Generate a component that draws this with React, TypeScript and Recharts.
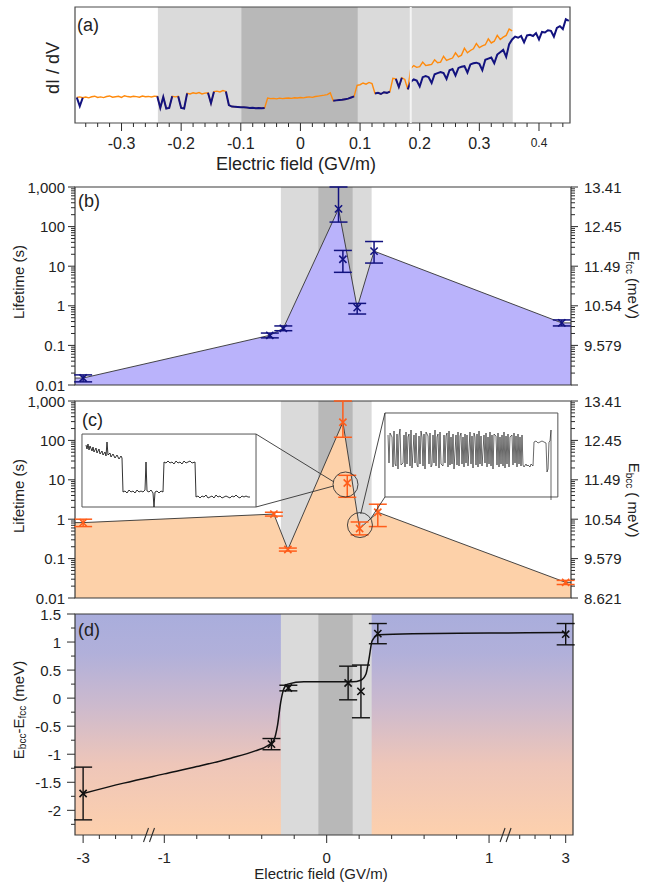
import React from "react";
import {
  Area,
  ComposedChart,
  ErrorBar,
  Line,
  LineChart,
  ReferenceArea,
  ReferenceDot,
  ReferenceLine,
  Scatter,
  XAxis,
  YAxis,
} from "recharts";

const FONT = "'Liberation Sans', Arial, Helvetica, sans-serif";
const INK = "#2b2b2b";
const LIGHT_GRAY = "#dadada";
const DARK_GRAY = "#b8b8b8";
const ORANGE = "#ff8a0c";
const NAVY = "#12127f";
const BCC = "#ff5d1a";

// ---------- (a) dI/dV sweep ----------
const sweepStart = -0.375;
const sweepStep = 0.005;
const orangeTrace = [
  2.2, 2.25, 2.18,
  2.24, 2.17, 2.26, 2.31, 2.2, 2.25, 2.19, 2.28, 2.33, 2.22, 2.26, 2.3,
  2.21, 2.35, 2.28, 2.24, 2.3, 2.27, 2.22, 2.32, 2.26, 2.29, 2.24, 2.31,
  2.3, 1.3, 2.25, 1.25, 1.3, 2.3, 2.25, 2.3, 1.3, 1.25, 2.55,
  2.5, 2.6, 2.55, 2.62, 2.5, 2.58,
  2.6, 1.7, 2.7, 2.75, 2.68, 2.8, 2.72,
  1.55, 1.42, 1.4, 1.38, 1.35, 1.36, 1.33, 1.3, 1.32, 1.28, 1.3, 1.27, 1.3,
  2.15, 2.1, 2.12, 2.08, 2.14, 2.1, 2.13, 2.16, 2.12, 2.18, 2.15, 2.2,
  2.17, 2.22, 2.25, 2.21, 2.28, 2.32, 2.36, 2.4, 2.45, 2.6,
  1.92, 1.95, 1.98, 2.0, 2.05, 2.1, 2.2, 2.3,
  3.25, 3.3, 3.45, 3.35, 3.5, 3.4,
  2.55, 2.6, 2.5, 2.65, 2.6, 2.7,
  3.85, 3.8, 3.1, 3.9, 3.75, 2.9,
  4.7, 4.95, 4.8, 4.85, 5.25, 4.95, 5.0, 5.05, 5.45, 5.2, 5.25, 5.75,
  5.4, 5.5, 5.6, 6.05, 5.7, 5.85, 6.45, 6.05, 6.25, 6.4, 6.85, 6.5,
  6.65, 6.75, 7.25, 6.9, 7.05, 7.55, 7.2, 7.4, 7.55, 8.1, 7.95,
];
const navyTrace = [
  2.2, 1.45, 2.18,
  null, null, null, null, null, null, null, null, null, null, null, null,
  null, null, null, null, null, null, null, null, null, null, null, null,
  2.3, 1.3, 2.25, 1.25, 1.3, 2.3, null, 2.3, 1.3, 1.25, 2.55,
  null, null, null, null, null, null,
  2.6, 1.7, 2.7, null, null, null, 2.72,
  1.55, 1.42, 1.4, 1.38, 1.35, 1.36, 1.33, 1.3, 1.32, 1.28, 1.3, 1.27, 1.3,
  null, null, null, null, null, null, null, null, null, null, null, null,
  null, null, null, null, null, null, null, null, null, null,
  1.92, 1.95, 1.98, 2.0, 2.05, 2.1, 2.2, 2.3,
  null, null, null, null, null, null,
  2.55, 2.6, 2.5, 2.65, 2.6, 2.7,
  null, 3.8, 3.1, 3.9, null, 2.9,
  3.55, 3.75, 3.65, 3.15, 3.95, 4.05, 3.95, 3.45, 4.2, 4.3, 4.4, 4.3,
  3.8, 4.55, 4.65, 4.1, 4.75, 4.85, 4.9, 4.35, 5.05, 5.15, 5.2, 5.1,
  4.55, 5.45, 5.55, 5.65, 5.15, 5.9, 6.1, 6.3, 5.7, 6.8, 7.2,
  7.45, 7.35, 7.5, 6.95, 7.55, 7.6, 7.5, 7.75, 7.2, 7.85, 7.8, 8.0,
  7.95, 7.45, 8.2, 8.35, 8.1, 8.95, 8.8,
];
const sweepMajor = [-0.3, -0.2, -0.1, 0, 0.1, 0.2, 0.3, 0.4];
const sweepLabels = ["-0.3", "-0.2", "-0.1", "0", "0.1", "0.2", "0.3", "0.4"];
const sweepLabelSize = [16, 16, 16, 16, 16, 16, 16, 12];
const sweepLight = [-0.239, 0.356];
const sweepDark = [-0.099, 0.096];
const sweepGap = 0.185;
const SWEEP_DOMAIN = [-0.378, 0.452];

// ---------- (b) fcc lifetime ----------
const fccField = [-3, -0.35, -0.267, 0.073, 0.1, 0.188, 0.292, 2.9];
const fccLife = [0.015, 0.18, 0.27, 280, 15, 0.9, 24, 0.37];
const fccLow = [0.012, 0.155, 0.235, 130, 7, 0.62, 12, 0.31];
const fccHigh = [0.018, 0.205, 0.31, 1000, 25, 1.15, 42, 0.44];
const fccOutline = [0, 1, 2, 3, 5, 6, 7];

// ---------- (c) bcc lifetime ----------
const bccField = [-3, -0.325, -0.239, 0.1, 0.127, 0.203, 0.315, 3];
const bccLife = [0.82, 1.35, 0.17, 290, 8.3, 0.58, 1.5, 0.025];
const bccLow = [0.65, 1.2, 0.155, 120, 3.6, 0.4, 0.65, 0.022];
const bccHigh = [1.0, 1.5, 0.185, 1000, 13, 0.85, 2.4, 0.028];
const bccOutline = [0, 1, 2, 3, 5, 6, 7];

const lifeMajor = [0.01, 0.1, 1, 10, 100, 1000];
const lifeLabels = ["0.01", "0.1", "1", "10", "100", "1,000"];
const fccEnergyLabels = ["", "9.579", "10.54", "11.49", "12.45", "13.41"];
const bccEnergyLabels = ["8.621", "9.579", "10.54", "11.49", "12.45", "13.41"];

// insets of (c): telegraph traces
const insetLeftT = [
  2, 3, 4, 5, 6, 8, 9, 10, 12, 13, 15, 16, 18, 19, 21, 22, 23, 24, 26, 27,
  29, 31, 33, 35, 37, 38, 39, 41, 43, 45, 47, 49, 51, 53, 55, 57, 59, 61, 62, 63,
  65, 67, 69, 70, 71, 73, 75, 77, 79, 80, 82, 84, 86, 88, 90, 92, 94, 96, 98, 100,
  102, 104, 106, 108, 111, 112, 114, 116, 118, 120, 122, 124, 126, 128, 130, 132, 134, 136, 138, 140,
  142, 144, 146, 148, 150, 152, 154, 156, 158, 160, 162, 164, 166,
];
const insetLeftV = [
  62, 58, 63, 57, 61, 56, 60, 55, 59, 54, 58, 53, 56, 52, 55, 51, 65, 52, 54, 50,
  53, 49, 52, 48, 51, 49, 15, 16, 14, 17, 15, 16, 14, 17, 15, 16, 15, 17, 45, 16,
  15, 17, 14, 0, 15, 16, 14, 16, 15, 45, 44, 46, 44, 45, 43, 46, 44, 45, 43, 46,
  44, 45, 46, 44, 45, 10, 11, 9, 11, 10, 12, 9, 10, 11, 9, 12, 10, 11, 9, 10,
  11, 10, 9, 11, 10, 12, 10, 9, 11, 10, 11, 10, 10,
];
const insetRightT = [
  2, 3, 4, 6, 7, 8, 9, 10, 11, 12, 13, 14, 15, 17, 18, 19, 20, 21, 22, 23,
  24, 25, 26, 28, 29, 30, 31, 32, 33, 34, 35, 36, 37, 38, 39, 40, 42, 43, 44, 45,
  46, 47, 48, 49, 50, 51, 52, 53, 54, 55, 57, 58, 59, 60, 61, 62, 63, 64, 65, 66,
  67, 68, 70, 71, 72, 73, 74, 75, 76, 77, 78, 79, 80, 81, 82, 84, 85, 86, 87, 88,
  89, 90, 91, 92, 93, 94, 95, 96, 98, 99, 100, 101, 102, 103, 104, 105, 106, 107, 108, 110,
  111, 112, 113, 114, 115, 116, 117, 118, 119, 120, 121, 122, 123, 124, 126, 127, 128, 129, 130, 131,
  132, 133, 134, 135, 136, 137, 138, 140, 141, 142, 144, 145, 147, 148, 150, 152, 154, 156, 158, 160,
  161, 162, 163, 164, 165, 165,
];
const insetRightV = [
  62, 34, 64, 60, 30, 66, 33, 31, 63, 28, 61, 68, 32, 34, 62, 30, 65, 33, 60, 63,
  31, 67, 29, 62, 34, 64, 32, 30, 61, 33, 66, 60, 31, 63, 28, 65, 61, 33, 64, 30,
  32, 62, 34, 67, 31, 60, 63, 29, 65, 33, 31, 62, 34, 61, 64, 30, 66, 32, 60, 33,
  63, 28, 62, 32, 65, 31, 61, 64, 33, 60, 30, 63, 34, 62, 31, 65, 33, 61, 29, 64,
  60, 32, 63, 30, 66, 33, 61, 31, 62, 34, 64, 30, 60, 33, 65, 31, 62, 28, 63, 61,
  32, 64, 30, 60, 33, 62, 31, 65, 29, 61, 33, 63, 30, 60, 62, 32, 64, 34, 61, 30,
  63, 33, 60, 31, 62, 32, 30, 33, 31, 32, 30, 33, 31, 55, 56, 54, 55, 56, 55, 54,
  25, 28, 55, 56, 67, -3,
];

// ---------- (d) energy difference ----------
const diffField = [-3, -0.34, -0.236, 0.132, 0.211, 0.315, 3];
const diffValue = [-1.7, -0.82, 0.18, 0.27, 0.12, 1.15, 1.14];
const diffErr = [0.47, 0.1, 0.05, 0.3, 0.47, 0.18, 0.19];
const fitField = [
  -3, -2, -1, -0.8, -0.59, -0.44, -0.365, -0.327, -0.303, -0.283, -0.265, -0.24,
  -0.14, 0.01, 0.16, 0.21, 0.242, 0.26, 0.28, 0.32, 0.53, 1, 3,
];
const fitValue = [
  -1.7, -1.515, -1.35, -1.22, -1.07, -0.94, -0.85, -0.76, -0.49, -0.07, 0.16, 0.25,
  0.29, 0.29, 0.29, 0.32, 0.43, 0.69, 1.02, 1.13, 1.15, 1.16, 1.17,
];
const fieldMajor = [-3, -1, 0, 1, 3];
const fieldLabels = ["-3", "-1", "0", "1", "3"];
const fieldMinor = [-2.6, -2.2, -1.8, -0.8, -0.6, -0.4, -0.2, 0.2, 0.4, 0.6, 0.8, 1.8, 2.2, 2.6];
const fieldBreaks = [-1.34, 1.47];
const diffMajor = [-2, -1.5, -1, -0.5, 0, 0.5, 1, 1.5];
const diffLabels = ["-2", "-1.5", "-1", "-0.5", "0", "0.5", "1", "1.5"];
const diffMinor = [-2.25, -1.75, -1.25, -0.75, -0.25, 0.25, 0.75, 1.25];
const fieldLight = [-0.282, 0.277];
const fieldDark = [-0.051, 0.16];

// broken field axis: beyond +-1 GV/m the scale is squeezed
const squeeze = (e: number) =>
  e < -1 ? -1 + (e + 1) * 0.25 : e > 1 ? 1 + (e - 1) * 0.236 : e;
const U_DOMAIN = [-1.55, 1.505];
const U_DOMAIN_D = [-1.55, 1.517];

const lifeTicks: number[] = [];
for (let d = -2; d <= 3; d++) {
  for (let m = 1; m <= 9; m++) {
    const v = m * Math.pow(10, d);
    if (v <= 1000.001) lifeTicks.push(v);
  }
}
const sweepTicks: number[] = [];
for (let k = -18; k <= 22; k++) sweepTicks.push(k / 50);

const findMajor = (majors: number[], v: number) =>
  majors.findIndex((m) => Math.abs(m - v) <= 1e-6 * Math.max(1e-3, Math.abs(m)) + 1e-9);

function bottomTick(
  majors: number[],
  labels: string[],
  sizes: number[],
  majorLen: number,
  minorLen: number,
  labelDy: number,
  breaks: number[] = []
) {
  return (p: any) => {
    const v = p.payload?.value;
    if (breaks.some((b) => Math.abs(b - v) < 1e-9)) {
      return (
        <g stroke={INK} strokeWidth={1.1}>
          <line x1={p.x - 7} y1={p.y + 7} x2={p.x - 2} y2={p.y - 7} />
          <line x1={p.x - 1} y1={p.y + 7} x2={p.x + 4} y2={p.y - 7} />
        </g>
      );
    }
    const k = findMajor(majors, v);
    return (
      <g>
        <line x1={p.x} x2={p.x} y1={p.y} y2={p.y + (k >= 0 ? majorLen : minorLen)} stroke={INK} />
        {k >= 0 && (
          <text
            x={p.x}
            y={p.y + labelDy}
            textAnchor="middle"
            dominantBaseline="central"
            fontSize={sizes[k]}
            fontFamily={FONT}
            fill="#222"
          >
            {labels[k]}
          </text>
        )}
      </g>
    );
  };
}

function sideTick(
  side: "left" | "right",
  majors: number[],
  labels: string[],
  size: number,
  majorLen: number,
  minorLen: number,
  gap: number
) {
  const s = side === "left" ? -1 : 1;
  return (p: any) => {
    const k = findMajor(majors, p.payload?.value);
    const len = k >= 0 ? majorLen : minorLen;
    return (
      <g>
        <line x1={p.x} x2={p.x + s * len} y1={p.y} y2={p.y} stroke={INK} />
        {k >= 0 && labels[k] !== "" && (
          <text
            x={p.x + s * (majorLen + gap)}
            y={p.y}
            textAnchor={side === "left" ? "end" : "start"}
            dominantBaseline="central"
            fontSize={size}
            fontFamily={FONT}
            fill="#222"
          >
            {labels[k]}
          </text>
        )}
      </g>
    );
  };
}

const xMark = (color: string) => (p: any) => {
  const { cx, cy } = p;
  if (cx == null || cy == null) return <g />;
  const s = 3.6;
  return (
    <path
      d={`M${cx - s},${cy - s}L${cx + s},${cy + s}M${cx - s},${cy + s}L${cx + s},${cy - s}`}
      stroke={color}
      strokeWidth={1.6}
      fill="none"
    />
  );
};

const sweepRows = navyTrace.map((n, i) => ({
  e: sweepStart + i * sweepStep,
  n,
  o: i < orangeTrace.length ? orangeTrace[i] : null,
}));

const lifePoints = (field: number[], life: number[], low: number[], high: number[]) =>
  field.map((e, i) => ({ u: squeeze(e), y: life[i], err: [life[i] - low[i], high[i] - life[i]] }));

// the shaded outline runs flat from the first / last point out to the frame
const outlinePoints = (idx: number[], field: number[], life: number[]) => {
  const pts = idx.map((i) => ({ u: squeeze(field[i]), y: life[i] }));
  return [
    { u: U_DOMAIN[0], y: pts[0].y },
    ...pts,
    { u: U_DOMAIN[1], y: pts[pts.length - 1].y },
  ];
};

const diffPoints = diffField.map((e, i) => ({ u: squeeze(e), y: diffValue[i], err: diffErr[i] }));
const fitPoints = fitField.map((e, i) => ({ u: squeeze(e), y: fitValue[i] }));

const sweepTick = bottomTick(sweepMajor, sweepLabels, sweepLabelSize, 8, 4, 20);
const fieldTick = bottomTick(
  fieldMajor.map(squeeze),
  fieldLabels,
  fieldLabels.map(() => 15),
  8,
  4,
  22,
  fieldBreaks.map(squeeze)
);
const lifeLeftTick = sideTick("left", lifeMajor, lifeLabels, 15, 7, 4, 3);
const fccRightTick = sideTick("right", lifeMajor, fccEnergyLabels, 15, 7, 4, 6);
const bccRightTick = sideTick("right", lifeMajor, bccEnergyLabels, 15, 7, 4, 6);
const diffLeftTick = sideTick("left", diffMajor, diffLabels, 15, 8, 4, 6);

function sweepAxes(show: boolean) {
  return [
    <XAxis
      key="x"
      type="number"
      dataKey="e"
      domain={SWEEP_DOMAIN}
      allowDataOverflow
      ticks={sweepTicks}
      interval={0}
      tickSize={0}
      tickMargin={0}
      axisLine={false}
      tickLine={false}
      height={30}
      tick={show ? sweepTick : false}
    />,
    <YAxis key="y" type="number" domain={[0, 10]} allowDataOverflow hide />,
  ];
}

function lifeAxes(show: boolean, rightTick: any) {
  return [
    <XAxis key="x" type="number" dataKey="u" domain={U_DOMAIN} allowDataOverflow hide />,
    <YAxis
      key="l"
      yAxisId="l"
      type="number"
      dataKey="y"
      scale="log"
      domain={[0.01, 1000]}
      allowDataOverflow
      width={75}
      ticks={lifeTicks}
      interval={0}
      tickSize={0}
      tickMargin={0}
      axisLine={false}
      tickLine={false}
      tick={show ? lifeLeftTick : false}
    />,
    <YAxis
      key="r"
      yAxisId="r"
      orientation="right"
      type="number"
      dataKey="y"
      scale="log"
      domain={[0.01, 1000]}
      allowDataOverflow
      width={74}
      ticks={lifeTicks}
      interval={0}
      tickSize={0}
      tickMargin={0}
      axisLine={false}
      tickLine={false}
      tick={show ? rightTick : false}
    />,
  ];
}

function diffAxes(show: boolean) {
  return [
    <XAxis
      key="x"
      type="number"
      dataKey="u"
      domain={U_DOMAIN_D}
      allowDataOverflow
      ticks={[...fieldMajor, ...fieldMinor, ...fieldBreaks].map(squeeze)}
      interval={0}
      tickSize={0}
      tickMargin={0}
      axisLine={false}
      tickLine={false}
      height={40}
      tick={show ? fieldTick : false}
    />,
    <YAxis
      key="y"
      type="number"
      dataKey="y"
      domain={[-2.44, 1.5]}
      allowDataOverflow
      width={75}
      ticks={[...diffMajor, ...diffMinor]}
      interval={0}
      tickSize={0}
      tickMargin={0}
      axisLine={false}
      tickLine={false}
      tick={show ? diffLeftTick : false}
    />,
  ];
}

const Layer = ({ top, children }: { top: number; children: React.ReactNode }) => (
  <div style={{ position: "absolute", left: 0, top }}>{children}</div>
);

const A_MARGIN = { top: 7, right: 75, bottom: 27, left: 75 };
const B_MARGIN = { top: 7, right: 0, bottom: 17, left: 0 };
const C_MARGIN = { top: 7, right: 0, bottom: 18, left: 0 };
const D_MARGIN = { top: 7, right: 72, bottom: 8, left: 0 };
const LIFE_H = 222;

function LifetimeBackground() {
  return [
    <ReferenceArea
      key="lg"
      yAxisId="l"
      x1={fieldLight[0]}
      x2={fieldLight[1]}
      y1={0.01}
      y2={1000}
      fill={LIGHT_GRAY}
      fillOpacity={1}
      stroke="none"
    />,
    <ReferenceArea
      key="dg"
      yAxisId="l"
      x1={fieldDark[0]}
      x2={fieldDark[1]}
      y1={0.01}
      y2={1000}
      fill={DARK_GRAY}
      fillOpacity={1}
      stroke="none"
    />,
  ];
}

const lifeBox = (
  <ReferenceArea
    yAxisId="l"
    x1={U_DOMAIN[0]}
    x2={U_DOMAIN[1]}
    y1={0.01}
    y2={1000}
    fill="none"
    stroke="#3a3a3a"
    strokeWidth={1.2}
  />
);

export default function App() {
  const W = 645;
  return (
    <div
      style={{
        position: "absolute",
        left: 0,
        top: 0,
        width: W,
        height: 883,
        background: "#fff",
        fontFamily: FONT,
        overflow: "hidden",
      }}
    >
      {/* (a) */}
      <Layer top={0}>
        <ComposedChart width={W} height={180} data={sweepRows} margin={A_MARGIN}>
          {sweepAxes(false)}
          <ReferenceArea x1={sweepLight[0]} x2={sweepLight[1]} y1={0} y2={10} fill={LIGHT_GRAY} fillOpacity={1} stroke="none" />
          <ReferenceArea x1={sweepDark[0]} x2={sweepDark[1]} y1={0} y2={10} fill={DARK_GRAY} fillOpacity={1} stroke="none" />
        </ComposedChart>
      </Layer>
      <Layer top={0}>
        <ComposedChart width={W} height={180} data={sweepRows} margin={A_MARGIN}>
          {sweepAxes(true)}
          <Line dataKey="o" type="linear" stroke={ORANGE} strokeWidth={1.4} dot={false} activeDot={false} isAnimationActive={false} />
          <Line dataKey="n" type="linear" stroke={NAVY} strokeWidth={2} dot={false} activeDot={false} isAnimationActive={false} />
          <ReferenceLine x={sweepGap} stroke="#f4f4f4" strokeWidth={2} segment={[{ x: sweepGap, y: 0.8 }, { x: sweepGap, y: 9.6 }]} />
          <ReferenceArea x1={SWEEP_DOMAIN[0]} x2={SWEEP_DOMAIN[1]} y1={0} y2={10} fill="none" stroke="#4a4a4a" strokeWidth={1.2} />
        </ComposedChart>
      </Layer>

      {/* (b) */}
      <Layer top={180}>
        <ComposedChart width={W} height={LIFE_H} margin={B_MARGIN}>
          {lifeAxes(false, fccRightTick)}
          {LifetimeBackground()}
        </ComposedChart>
      </Layer>
      <Layer top={180}>
        <ComposedChart width={W} height={LIFE_H} margin={B_MARGIN}>
          {lifeAxes(true, fccRightTick)}
          <Area
            yAxisId="l"
            data={outlinePoints(fccOutline, fccField, fccLife)}
            dataKey="y"
            type="linear"
            baseValue={0.01}
            stroke="#333"
            strokeWidth={0.9}
            fill="#bab3fb"
            fillOpacity={1}
            dot={false}
            activeDot={false}
            isAnimationActive={false}
          />
          <Scatter
            yAxisId="l"
            data={lifePoints(fccField, fccLife, fccLow, fccHigh)}
            dataKey="y"
            shape={xMark(NAVY)}
            isAnimationActive={false}
          >
            <ErrorBar dataKey="err" direction="y" width={9} stroke={NAVY} strokeWidth={1.5} isAnimationActive={false} />
          </Scatter>
          {lifeBox}
        </ComposedChart>
      </Layer>

      {/* (c) */}
      <Layer top={394}>
        <ComposedChart width={W} height={LIFE_H} margin={C_MARGIN}>
          {lifeAxes(false, bccRightTick)}
          {LifetimeBackground()}
        </ComposedChart>
      </Layer>
      <Layer top={394}>
        <ComposedChart width={W} height={LIFE_H} margin={C_MARGIN}>
          {lifeAxes(true, bccRightTick)}
          <Area
            yAxisId="l"
            data={outlinePoints(bccOutline, bccField, bccLife)}
            dataKey="y"
            type="linear"
            baseValue={0.01}
            stroke="#333"
            strokeWidth={0.9}
            fill="#fdd1a9"
            fillOpacity={1}
            dot={false}
            activeDot={false}
            isAnimationActive={false}
          />
          <Scatter
            yAxisId="l"
            data={lifePoints(bccField, bccLife, bccLow, bccHigh)}
            dataKey="y"
            shape={xMark(BCC)}
            isAnimationActive={false}
          >
            <ErrorBar dataKey="err" direction="y" width={9} stroke={BCC} strokeWidth={1.5} isAnimationActive={false} />
          </Scatter>
          {lifeBox}
        </ComposedChart>
      </Layer>
      <Layer top={394}>
        <ComposedChart width={W} height={LIFE_H} margin={C_MARGIN}>
          {lifeAxes(false, bccRightTick)}
          {/* zoom-in callouts, placed in axis units */}
          <ReferenceLine yAxisId="l" segment={[{ x: -0.435, y: 145 }, { x: 0.045, y: 8.8 }]} stroke="#333" strokeWidth={0.9} />
          <ReferenceLine yAxisId="l" segment={[{ x: -0.435, y: 2.04 }, { x: 0.045, y: 7.0 }]} stroke="#333" strokeWidth={0.9} />
          <ReferenceLine yAxisId="l" segment={[{ x: 0.359, y: 496 }, { x: 0.21, y: 1.36 }]} stroke="#333" strokeWidth={0.9} />
          <ReferenceLine yAxisId="l" segment={[{ x: 0.359, y: 3.66 }, { x: 0.27, y: 1.01 }]} stroke="#333" strokeWidth={0.9} />
          <ReferenceArea yAxisId="l" x1={-1.507} x2={-0.435} y1={2.04} y2={145} fill="#fff" fillOpacity={1} stroke="#555" strokeWidth={1} />
          <ReferenceArea yAxisId="l" x1={0.359} x2={1.424} y1={3.66} y2={496} fill="#fff" fillOpacity={1} stroke="#555" strokeWidth={1} />
          <ReferenceDot yAxisId="l" x={0.116} y={7.6} r={12.5} fill="none" stroke="#333" strokeWidth={0.9} />
          <ReferenceDot yAxisId="l" x={0.205} y={0.71} r={12.5} fill="none" stroke="#333" strokeWidth={0.9} />
        </ComposedChart>
      </Layer>
      <Layer top={437}>
        <div style={{ position: "absolute", left: 84 }}>
          <LineChart
            width={170}
            height={70}
            data={insetLeftT.map((t, i) => ({ t, v: insetLeftV[i] }))}
            margin={{ top: 0, right: 0, bottom: 0, left: 0 }}
          >
            <XAxis type="number" dataKey="t" domain={[0, 170]} hide />
            <YAxis type="number" domain={[0, 70]} allowDataOverflow hide />
            <Line dataKey="v" type="linear" stroke="#1c1c1c" strokeWidth={0.9} dot={false} activeDot={false} isAnimationActive={false} />
          </LineChart>
        </div>
      </Layer>
      <Layer top={413}>
        <div style={{ position: "absolute", left: 386 }}>
          <LineChart
            width={170}
            height={87}
            data={insetRightT.map((t, i) => ({ t, v: insetRightV[i] }))}
            margin={{ top: 0, right: 0, bottom: 0, left: 0 }}
          >
            <XAxis type="number" dataKey="t" domain={[0, 170]} hide />
            <YAxis type="number" domain={[-3, 84]} allowDataOverflow hide />
            <Line dataKey="v" type="linear" stroke="#2a2a2a" strokeWidth={0.7} dot={false} activeDot={false} isAnimationActive={false} />
          </LineChart>
        </div>
      </Layer>

      {/* (d) */}
      <Layer top={607}>
        <ComposedChart width={W} height={276} margin={D_MARGIN}>
          <defs>
            <linearGradient id="diffGrad" x1="0" y1="0" x2="0" y2="1">
              <stop offset="0%" stopColor="#a9addc" />
              <stop offset="18%" stopColor="#b1b0da" />
              <stop offset="42%" stopColor="#cdbacd" />
              <stop offset="68%" stopColor="#eec6b9" />
              <stop offset="100%" stopColor="#fdd0ad" />
            </linearGradient>
          </defs>
          {diffAxes(false)}
          <ReferenceArea x1={U_DOMAIN_D[0]} x2={U_DOMAIN_D[1]} y1={-2.44} y2={1.5} fill="url(#diffGrad)" fillOpacity={1} stroke="none" />
          <ReferenceArea x1={fieldLight[0]} x2={fieldLight[1]} y1={-2.44} y2={1.5} fill={LIGHT_GRAY} fillOpacity={1} stroke="none" />
          <ReferenceArea x1={fieldDark[0]} x2={fieldDark[1]} y1={-2.44} y2={1.5} fill={DARK_GRAY} fillOpacity={1} stroke="none" />
        </ComposedChart>
      </Layer>
      <Layer top={607}>
        <ComposedChart width={W} height={276} margin={D_MARGIN}>
          {diffAxes(true)}
          <Line data={fitPoints} dataKey="y" type="monotone" stroke="#111" strokeWidth={1.5} dot={false} activeDot={false} isAnimationActive={false} />
          <Scatter data={diffPoints} dataKey="y" shape={xMark("#111")} isAnimationActive={false}>
            <ErrorBar dataKey="err" direction="y" width={9} stroke="#111" strokeWidth={1.4} isAnimationActive={false} />
          </Scatter>
          <ReferenceArea x1={U_DOMAIN_D[0]} x2={U_DOMAIN_D[1]} y1={-2.44} y2={1.5} fill="none" stroke="#3a3a3a" strokeWidth={1.2} />
        </ComposedChart>
      </Layer>

      {/* titles and panel letters */}
      <svg
        width={W}
        height={883}
        style={{ position: "absolute", left: 0, top: 0, pointerEvents: "none" }}
        fontFamily={FONT}
        fill="#222"
      >
        <text x={77} y={31} fontSize={18}>(a)</text>
        <text transform="translate(53,68) rotate(-90)" textAnchor="middle" dominantBaseline="central" fontSize={18}>
          dI / dV
        </text>
        <text x={296} y={170} textAnchor="middle" fontSize={18}>Electric field (GV/m)</text>

        <text x={78} y={207} fontSize={18}>(b)</text>
        <text transform="translate(18,282) rotate(-90)" textAnchor="middle" dominantBaseline="central" fontSize={15}>
          Lifetime (s)
        </text>
        <text transform="translate(634,285) rotate(90)" textAnchor="middle" dominantBaseline="central" fontSize={15}>
          E<tspan fontSize={10} dy={4}>fcc</tspan>
          <tspan dy={-4}> (meV)</tspan>
        </text>

        <text x={82} y={426} fontSize={18}>(c)</text>
        <text transform="translate(18,496) rotate(-90)" textAnchor="middle" dominantBaseline="central" fontSize={15}>
          Lifetime (s)
        </text>
        <text transform="translate(634,500) rotate(90)" textAnchor="middle" dominantBaseline="central" fontSize={15}>
          E<tspan fontSize={10} dy={4}>bcc</tspan>
          <tspan dy={-4}> ( meV)</tspan>
        </text>

        <text x={78} y={636} fontSize={18}>(d)</text>
        <text transform="translate(18,710) rotate(-90)" textAnchor="middle" dominantBaseline="central" fontSize={15}>
          E<tspan fontSize={10} dy={4}>bcc</tspan>
          <tspan dy={-4}>-E</tspan>
          <tspan fontSize={10} dy={4}>fcc</tspan>
          <tspan dy={-4}> (meV)</tspan>
        </text>
        <text x={321} y={879} textAnchor="middle" fontSize={15}>Electric field (GV/m)</text>
      </svg>
    </div>
  );
}
